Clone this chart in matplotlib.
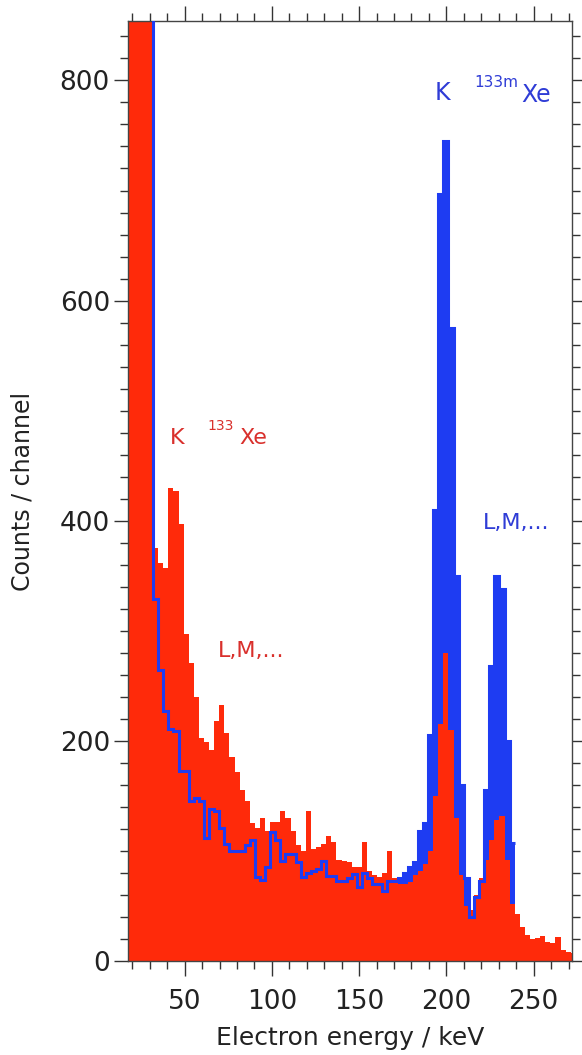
import numpy as np
import matplotlib
matplotlib.use("Agg")
import matplotlib.pyplot as plt
from matplotlib.ticker import MultipleLocator

# ---- data: channel calibration and counts per channel ----
E_START = 17.25      # keV, lower edge of first channel
CH_WIDTH = 2.92      # keV per channel

# 133Xe spectrum (red)
red_counts = [2600, 2100, 1700, 1350, 1050, 375, 362, 357, 430, 427,
              397, 297, 271, 240, 203, 199, 192, 218, 233, 207,
              185, 172, 155, 145, 125, 121, 130, 118, 126, 126,
              136, 130, 118, 105, 100, 136, 102, 104, 106, 114,
              108, 92, 91, 90, 85, 85, 108, 82, 78, 76,
              80, 100, 75, 70, 70, 72, 78, 82, 88, 100,
              150, 215, 280, 210, 130, 78, 50, 46, 60, 75,
              92, 110, 128, 132, 92, 52, 43, 31, 24, 20,
              21, 23, 17, 16, 22, 10, 8, 7]

# 133mXe spectrum (blue)
blue_counts = [3400, 2900, 2400, 1900, 1400, 329, 264, 227, 211, 209,
               173, 173, 145, 148, 145, 112, 138, 136, 121, 106,
               100, 100, 100, 105, 110, 76, 74, 85, 117, 110,
               91, 97, 97, 90, 76, 80, 82, 84, 91, 77,
               77, 73, 73, 75, 79, 67, 80, 75, 70, 70,
               64, 73, 73, 75, 80, 85, 90, 118, 125, 205,
               410, 697, 745, 575, 350, 160, 75, 40, 58, 73,
               155, 268, 350, 338, 200, 107]

x_ticks = [50, 100, 150, 200, 250]
y_ticks = [0, 200, 400, 600, 800]

RED = "#FF2A0A"
BLUE = "#1E3CF2"
RED_TXT = "#D9302C"
BLUE_TXT = "#2F3CD6"

edges_red = E_START + CH_WIDTH * np.arange(len(red_counts) + 1)
edges_blue = E_START + CH_WIDTH * np.arange(len(blue_counts) + 1)

fig = plt.figure(figsize=(5.82, 10.55), dpi=100)
ax = fig.add_axes([128 / 582, 1 - 961 / 1055, 444 / 582, 940 / 1055])

ax.stairs(blue_counts, edges_blue, fill=True, color=BLUE, lw=0, zorder=1)
ax.stairs(red_counts, edges_red, fill=True, color=RED, lw=0, zorder=2)
ax.stairs(blue_counts, edges_blue, baseline=None, color=BLUE, lw=2.2, zorder=3)

ax.set_xlim(17.5, 272)
ax.set_ylim(0, 854)

ax.set_xticks(x_ticks)
ax.set_yticks(y_ticks)
ax.xaxis.set_minor_locator(MultipleLocator(10))
ax.yaxis.set_minor_locator(MultipleLocator(20))

ax.tick_params(axis="both", which="both", direction="out", top=True, right=True,
               labeltop=False, labelright=False, colors="#333333", width=1.0)
ax.tick_params(axis="x", which="major", length=11, pad=9, labelsize=19, labelcolor="#222222")
ax.tick_params(axis="x", which="minor", length=5.5)
ax.tick_params(axis="y", which="major", length=10, pad=3, labelsize=19, labelcolor="#222222")
ax.tick_params(axis="y", which="minor", length=5.5)

for s in ax.spines.values():
    s.set_color("#444444")
    s.set_linewidth(1.0)

ax.set_xlabel("Electron energy / keV", fontsize=18, color="#222222", labelpad=8)
ax.set_ylabel("Counts / channel", fontsize=17, color="#222222", labelpad=18)

# annotations
ax.text(41.6, 470, "K", color=RED_TXT, fontsize=16, ha="left", va="baseline")
ax.text(63.0, 482, "133", color=RED_TXT, fontsize=10, ha="left", va="baseline")
ax.text(81.6, 470, "Xe", color=RED_TXT, fontsize=16, ha="left", va="baseline")
ax.text(69.0, 282, "L,M,...", color=RED_TXT, fontsize=16, ha="left", va="center")

ax.text(193.3, 789, "K", color=BLUE_TXT, fontsize=17, ha="left", va="center")
ax.text(216.2, 798, "133m", color=BLUE_TXT, fontsize=11, ha="left", va="center")
ax.text(243.2, 787, "Xe", color=BLUE_TXT, fontsize=17, ha="left", va="center")
ax.text(220.8, 398, "L,M,...", color=BLUE_TXT, fontsize=16, ha="left", va="center")

fig.savefig("out.png", dpi=100, facecolor="white")
